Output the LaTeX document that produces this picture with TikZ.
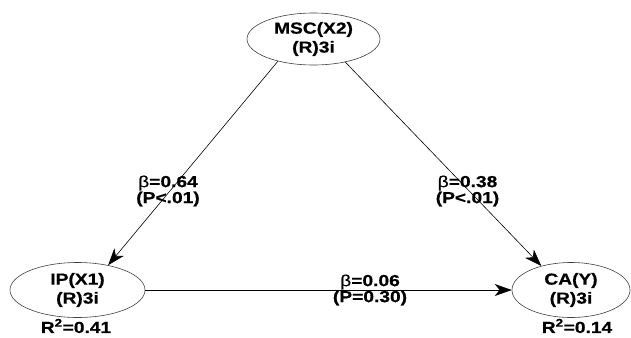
\documentclass[tikz,border=0pt]{standalone}
\usepackage{fontspec}
\setmainfont{Liberation Sans}
\newfontfamily\labfont[FakeStretch=1.2,FakeBold=0.6]{Liberation Sans}
\usetikzlibrary{shapes.geometric,arrows.meta}
\begin{document}
\begin{tikzpicture}[x=1pt,y=-1pt,
  lv/.style={ellipse,draw=black!75,line width=0.6pt,minimum width=133pt,minimum height=52pt,
    inner sep=0pt,align=center,font=\labfont\bfseries\fontsize{16}{19}\selectfont},
  lbl/.style={align=center,inner sep=0pt,font=\labfont\bfseries\fontsize{16}{16}\selectfont},
  conn/.style={draw=black,line width=0.6pt,-{Stealth[length=17pt,width=12pt,inset=5pt]}}]
\useasboundingbox (0,0) rectangle (631,337);
\node[lv] (msc) at (313.5,39) {MSC(X2)\\(R)3i};
\node[lv,minimum width=135pt,minimum height=55pt] (ip) at (77.5,290) {IP(X1)\\(R)3i};
\node[lv,minimum width=118pt,minimum height=55pt] (ca) at (571,290) {CA(Y)\\(R)3i};
\draw[conn] (msc.212) -- (ip.39);
\draw[conn] (msc.324) -- (ca.141);
\draw[conn] (ip.east) -- (ca.west);
\node[lbl] (l1) at (168,191) {{\mdseries β}=0.64\\(P<.01)};
\node[lbl] (l2) at (467.5,191) {{\mdseries β}=0.38\\(P<.01)};
\node[lbl] (l3) at (370,290) {{\mdseries β}=0.06\\(P=0.30)};
\node[lbl] (r1) at (76,326) {R\textsuperscript{2}=0.41};
\node[lbl] (r2) at (577,326) {R\textsuperscript{2}=0.14};
\end{tikzpicture}
\end{document}
